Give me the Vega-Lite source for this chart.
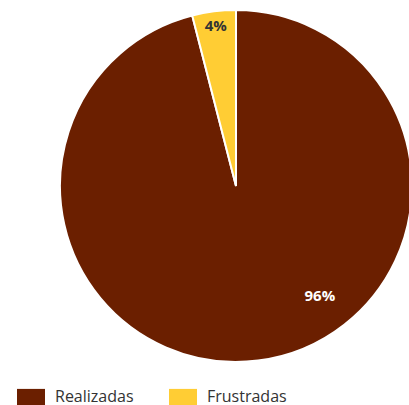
{
  "$schema": "https://vega.github.io/schema/vega-lite/v6.json",
  "width": 472,
  "height": 372,
  "autosize": {"type": "none"},
  "padding": {"top": 0, "left": 0, "right": 0, "bottom": 33},
  "background": "white",
  "config": {"view": {"stroke": null}, "font": "Open Sans"},
  "data": {"values": [
    {"label": "Realizadas", "value": 96, "pct": "96%"},
    {"label": "Frustradas", "value": 4, "pct": "4%"}
  ]},
  "encoding": {
    "theta": {"field": "value", "type": "quantitative", "stack": true},
    "order": {"field": "label", "sort": "descending"}
  },
  "layer": [
    {
      "mark": {"type": "arc", "outerRadius": 176, "stroke": "white", "strokeWidth": 2},
      "encoding": {
        "color": {
          "field": "label", "type": "nominal",
          "scale": {"domain": ["Realizadas", "Frustradas"], "range": ["#6b1f00", "#ffcd34"]},
          "legend": {
            "title": null, "orient": "none", "direction": "horizontal",
            "legendX": 17, "legendY": 383,
            "symbolType": "M-1,-0.6H1V0.6H-1Z", "symbolSize": 784,
            "symbolStrokeWidth": 0, "symbolOpacity": 1,
            "labelFont": "Open Sans", "labelFontSize": 16, "labelColor": "#333333",
            "labelOffset": 10, "columnPadding": 35
          }
        }
      }
    },
    {
      "mark": {"type": "text", "radius": 161, "font": "Open Sans", "fontSize": 15, "fontWeight": "bold", "color": "#333333"},
      "encoding": {
        "text": {"condition": {"test": "datum.label === 'Frustradas'", "field": "pct"}, "value": ""}
      }
    },
    {
      "mark": {"type": "text", "radius": 138, "thetaOffset": -0.527, "font": "Open Sans", "fontSize": 15, "fontWeight": "bold", "color": "white"},
      "encoding": {
        "text": {"condition": {"test": "datum.label === 'Realizadas'", "field": "pct"}, "value": ""}
      }
    }
  ]
}
